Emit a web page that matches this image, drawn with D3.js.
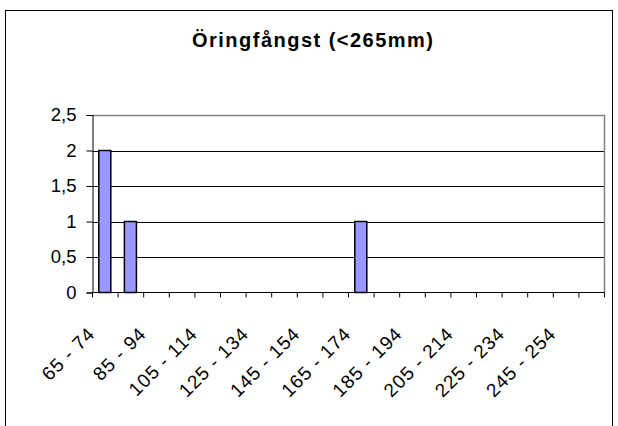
<!DOCTYPE html>
<html><head><meta charset="utf-8">
<script src="https://cdn.jsdelivr.net/npm/d3@7"></script>
<style>body{margin:0;background:#fff}svg{display:block}</style>
</head><body>
<script>
const title = "Öringfångst (<265mm)";
const categories = ["65 - 74","75 - 84","85 - 94","95 - 104","105 - 114","115 - 124","125 - 134","135 - 144","145 - 154","155 - 164","165 - 174","175 - 184","185 - 194","195 - 204","205 - 214","215 - 224","225 - 234","235 - 244","245 - 254","255 - 264"];
const values = [2,1,0,0,0,0,0,0,0,0,1,0,0,0,0,0,0,0,0,0];
const yTicks = [0,0.5,1,1.5,2,2.5];

const W=618,H=426;
const svg=d3.select("body").append("svg").attr("width",W).attr("height",H);
const font="Arial, 'Liberation Sans', sans-serif";
svg.append("rect").attr("x",5.5).attr("y",10.5).attr("width",607).attr("height",430).attr("fill","#fff").attr("stroke","#000");

const L=92.5,R=604.5,T=115,B=292.5;
const x=d3.scaleBand().domain(categories).range([L,R]).paddingInner(0.53).paddingOuter(0.265);
const xb=d3.scaleBand().domain(categories).range([L,R]);
const y=d3.scaleLinear().domain([0,2.5]).range([B,T]);

svg.append("text").attr("x",312.5).attr("y",47).attr("text-anchor","middle")
  .attr("font-family",font).attr("font-weight","bold").attr("font-size",20)
  .attr("textLength",241).attr("lengthAdjust","spacing").text(title);

// gridlines
svg.append("g").selectAll("line").data(yTicks.filter(d=>d>0&&d<2.5)).join("line")
  .attr("x1",L).attr("x2",R).attr("y1",d=>Math.round(y(d))+0.5).attr("y2",d=>Math.round(y(d))+0.5)
  .attr("stroke","#000").attr("stroke-width",1);
// plot border top/right
svg.append("path").attr("d",`M${L},${T+0.5}H${R}V${B}`).attr("fill","none").attr("stroke","#808080").attr("stroke-width",1.5);

// bars
svg.append("g").selectAll("rect").data(values.map((v,i)=>({c:categories[i],v}))).join("rect")
  .filter(d=>d.v>0)
  .attr("x",d=>x(d.c)-0.5).attr("width",x.bandwidth()).attr("y",d=>y(d.v)).attr("height",d=>y(0)-y(d.v))
  .attr("fill","#9999FF").attr("stroke","#000").attr("stroke-width",1.5);

// y axis
const ya=svg.append("g").attr("transform",`translate(${L},0)`)
  .call(d3.axisLeft(y).tickValues(yTicks).tickSize(6).tickPadding(10).tickFormat(d=>String(d).replace(".",",")));
ya.select(".domain").attr("stroke","#000");
ya.selectAll(".tick line").attr("stroke","#000");
ya.selectAll("text").attr("font-family",font).attr("font-size",18.5).attr("fill","#000");

// x axis
const bounds=categories.map(c=>xb(c)).concat([R]);
const xg=svg.append("g");
xg.append("line").attr("x1",L).attr("x2",R).attr("y1",B).attr("y2",B).attr("stroke","#000");
xg.selectAll("line.t").data(bounds).join("line").attr("class","t")
  .attr("x1",d=>d).attr("x2",d=>d).attr("y1",B).attr("y2",B+5).attr("stroke","#000");
xg.selectAll("text").data(categories.filter((c,i)=>i%2===0&&i<19)).join("text")
  .attr("transform",c=>`translate(${xb(c)+xb.bandwidth()/2-9},${B+42.5}) rotate(-45)`)
  .attr("text-anchor","end").attr("font-family",font).attr("font-size",19).attr("letter-spacing",1).attr("fill","#000")
  .text(c=>c);
</script>
</body></html>
